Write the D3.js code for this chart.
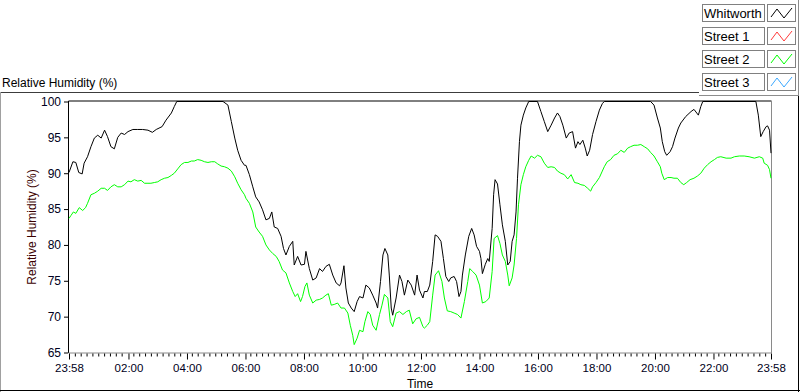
<!DOCTYPE html>
<html lang="en">
<head>
<meta charset="utf-8">
<title>Relative Humidity</title>
<script src="https://d3js.org/d3.v7.min.js"></script>
<style>
  body { margin: 0; background: #fff; }
  svg text { font-family: "Liberation Sans", Arial, sans-serif; }
</style>
</head>
<body>
<script>
// minutes after the 23:58 start, relative humidity (%)
var whitworth = [
  [0,90.1],[8,91.6],[14,91.5],[20,90.1],[27,89.9],[31,91.4],[38,92.3],[45,93.7],[52,94.9],[59,95.3],
  [66,94.9],[73,96.0],[79,95.1],[86,93.7],[93,93.4],[100,95.0],[107,95.6],[114,95.4],[121,95.8],[131,96.1],
  [141,96.1],[151,96.1],[162,96.0],[171,95.7],[179,96.1],[191,96.5],[199,97.4],[210,98.4],[216,99.3],[221,100],
  [316,100],[326,99.5],[333,97.2],[340,94.9],[346,93.2],[353,91.8],[360,91.1],
  [363,91.1],[370,89.8],[377,88.1],[383,86.7],[390,86.0],[397,84.9],[404,83.5],[411,83.7],[416,84.6],[421,82.5],
  [428,82.3],[435,81.2],[440,79.5],[445,78.6],[452,79.8],[459,80.5],[462,77.2],[469,78.4],[476,77.2],[483,77.3],
  [486,79.1],[493,76.7],[500,75.1],[507,75.4],[514,76.7],[520,76.3],[527,77.0],[534,77.3],[541,75.8],[548,74.7],
  [555,74.3],[558,74.7],[564,77.1],[568,74.0],[573,71.9],[579,71.2],[585,70.7],[591,72.1],[596,72.8],[603,72.6],
  [609,74.4],[616,74.0],[623,73.0],[630,71.9],[633,71.2],[639,74.9],[644,78.6],[648,79.5],[654,78.6],[657,75.8],
  [661,71.2],[664,70.2],[671,72.6],[678,75.8],[683,74.9],[688,73.0],[695,75.1],[702,74.4],[709,73.0],[714,75.8],
  [719,73.7],[726,72.6],
  [729,73.5],[735,73.5],[740,74.4],[746,77.7],[751,81.4],[756,81.2],[763,80.5],[768,78.1],[773,75.6],[779,74.9],
  [783,75.4],[790,75.6],[795,74.9],[800,72.8],[804,73.5],[807,75.8],[813,78.6],[820,81.2],[826,82.3],[831,81.4],
  [836,79.8],[842,79.1],[845,78.1],[848,76.0],[854,77.3],[859,78.1],[862,77.7],[868,82.3],[871,87.0],[874,89.1],
  [879,88.5],[884,85.6],[889,82.8],[895,80.5],[900,77.2],[905,77.7],[909,80.5],[913,81.4],[917,84.6],[920,89.3],
  [924,94.4],[927,96.7],[932,98.1],[937,99.1],[943,100],[961,100],[968,98.6],[975,97.2],[982,95.8],[989,96.7],
  [996,97.7],[1002,98.4],[1007,97.9],[1013,96.7],[1020,94.9],[1026,95.6],[1033,95.8],[1039,93.5],[1044,94.4],[1048,94.0],
  [1054,94.6],[1059,93.5],[1063,92.4],[1068,93.2],[1074,95.4],[1081,97.2],[1088,98.8],[1094,99.7],
  [1098,100],[1193,100],[1200,99.5],[1207,97.7],[1213,96.3],[1217,94.4],[1222,93.0],[1226,92.5],[1233,93.0],[1238,93.7],
  [1243,94.9],[1250,96.3],[1255,97.0],[1265,97.9],[1276,98.6],[1282,98.9],[1291,98.1],[1296,99.3],[1300,100],[1409,100],
  [1414,98.1],[1419,95.1],[1424,95.8],[1430,96.5],[1433,96.6],[1437,96.0],[1440,92.8]
];

var street2 = [
  [0,83.7],[4,84.1],[9,84.6],[14,84.4],[21,85.2],[28,84.8],[34,85.2],[38,85.8],[45,87.0],[52,87.2],
  [59,87.5],[66,87.9],[73,87.9],[79,87.6],[86,88.1],[93,88.4],[100,88.1],[107,88.1],[114,88.4],[121,88.9],
  [127,88.8],[134,89.1],[141,88.9],[148,89.0],[155,88.6],[162,88.6],[168,88.6],[175,88.7],[182,88.8],[189,89.1],
  [196,89.3],[203,89.4],[210,89.7],[216,90.0],[223,90.6],[230,91.2],[237,91.5],[244,91.5],[251,91.7],[257,91.7],
  [264,91.9],[271,91.8],[278,91.6],[285,91.5],[292,91.6],[299,91.6],[305,91.3],[312,91.0],[319,90.9],[326,90.7],
  [333,90.3],[340,89.5],[346,88.6],[353,87.7],[360,87.0],
  [363,86.5],[370,85.8],[377,84.6],[383,82.5],[390,81.8],[397,81.2],[404,80.0],[411,79.3],[418,78.8],[425,78.4],
  [431,77.7],[438,76.5],[445,76.1],[452,74.7],[459,73.5],[464,72.8],[469,73.2],[475,72.1],[479,72.8],[484,74.2],
  [488,74.7],[493,73.0],[500,71.9],[507,72.3],[514,72.4],[520,72.6],[527,73.0],[532,73.2],[538,71.6],[544,71.7],
  [551,71.9],[558,71.2],[565,71.2],[572,70.5],[577,68.8],[582,67.4],[585,66.1],[591,67.0],[596,68.1],[603,67.9],
  [607,69.3],[613,70.7],[618,70.3],[623,68.8],[630,68.1],[637,70.3],[642,71.6],[647,73.1],[654,72.6],[659,69.3],
  [664,68.6],[671,70.5],[678,70.7],[685,70.3],[692,70.7],[698,70.9],[705,69.0],[712,69.7],[719,69.9],[726,68.6],
  [729,68.4],[735,68.8],[740,69.3],[746,73.0],[751,75.8],[758,76.4],[765,74.9],[770,72.6],[776,70.8],[783,70.7],
  [790,70.5],[797,70.3],[804,69.8],[811,72.1],[818,74.9],[822,76.7],[828,76.3],[835,75.8],[842,74.4],[848,71.9],
  [855,72.1],[862,72.6],[868,76.3],[872,80.9],[879,81.3],[884,80.2],[889,78.6],[895,77.7],[900,75.8],[903,74.3],
  [909,75.4],[913,77.2],[918,80.9],[922,85.6],[927,88.4],[932,89.8],[937,90.9],[943,91.8],[948,92.4],[955,92.1],
  [961,92.5],[968,92.3],[975,91.4],[982,90.8],[989,90.9],[996,90.8],[1002,90.3],[1009,90.0],[1016,89.8],[1023,89.2],
  [1030,89.8],[1037,88.7],[1044,88.6],[1050,88.4],[1057,88.3],[1064,87.9],[1070,87.5],[1074,88.1],[1081,88.7],[1088,89.4],
  [1094,90.3],
  [1098,90.9],[1104,91.6],[1111,91.9],[1118,92.5],[1125,92.7],[1132,93.2],[1139,92.9],[1146,93.5],[1152,93.7],[1159,93.9],
  [1166,93.9],[1173,94.0],[1180,93.7],[1187,93.4],[1193,92.9],[1200,92.4],[1207,91.6],[1213,90.9],[1216,90.0],[1221,89.1],
  [1228,89.4],[1235,89.4],[1241,89.3],[1248,89.3],[1255,88.7],[1261,88.4],[1267,88.7],[1274,89.1],[1282,89.3],[1289,89.6],
  [1296,90.0],[1303,90.7],[1310,91.2],[1317,91.6],[1324,91.9],[1330,92.2],[1337,92.3],[1348,92.1],[1358,92.1],[1365,92.3],
  [1375,92.4],[1385,92.4],[1395,92.3],[1406,92.1],[1416,92.3],[1423,92.1],[1426,91.4],[1433,91.1],[1437,90.5],[1440,89.3]
];

var legendNames = ["Whitworth", "Street 1", "Street 2", "Street 3"];
var legendColors = ["#000000", "#ff3a3a", "#00ff00", "#3aa8ff"];

var yTicks = [65, 70, 75, 80, 85, 90, 95, 100];
var xTickMinutes = [0, 122, 242, 362, 482, 602, 722, 842, 962, 1082, 1202, 1322, 1440];
var xTickLabels = ["23:58", "02:00", "04:00", "06:00", "08:00", "10:00", "12:00",
                   "14:00", "16:00", "18:00", "20:00", "22:00", "23:58"];

var w = 800, h = 392;
var plotL = 69, plotR = 771, plotT = 101.5, plotB = 352.5;

var svg = d3.select("body").append("svg")
  .attr("width", w)
  .attr("height", h);

var x = d3.scaleLinear().domain([0, 1440]).range([plotL, plotR]);
var y = d3.scaleLinear().domain([65, 100]).range([plotB, plotT]);

// outer frame
svg.append("line").attr("x1", 0).attr("x2", 699).attr("y1", 92.5).attr("y2", 92.5)
  .attr("stroke", "#3c3c3c");
svg.append("line").attr("x1", 699).attr("x2", 799).attr("y1", 95.5).attr("y2", 95.5)
  .attr("stroke", "#8c8c8c");
svg.append("line").attr("x1", 798.5).attr("x2", 798.5).attr("y1", 0).attr("y2", 96)
  .attr("stroke", "#8c8c8c");
svg.append("line").attr("x1", 0.5).attr("x2", 0.5).attr("y1", 92).attr("y2", 392)
  .attr("stroke", "#a0a0a0");
svg.append("line").attr("x1", 798.5).attr("x2", 798.5).attr("y1", 96).attr("y2", 392)
  .attr("stroke", "#000");
svg.append("line").attr("x1", 0).attr("x2", 800).attr("y1", 390.5).attr("y2", 390.5)
  .attr("stroke", "#000");

// title
svg.append("text")
  .attr("x", 2).attr("y", 87)
  .attr("font-size", "12px")
  .attr("fill", "#000")
  .text("Relative Humidity (%)");

// plot area border: dark top/left, grey bottom/right
svg.append("path")
  .attr("d", "M" + (plotL - 0.5) + "," + (plotB + 0.5) + "V" + (plotT - 0.5) + "H" + (plotR + 0.5))
  .attr("fill", "none").attr("stroke", "#000");
svg.append("path")
  .attr("d", "M" + (plotR + 0.5) + "," + (plotT - 0.5) + "V" + (plotB + 0.5) + "H" + (plotL - 0.5))
  .attr("fill", "none").attr("stroke", "#8a8a8a");

svg.append("clipPath").attr("id", "clip")
  .append("rect").attr("x", plotL - 1).attr("y", plotT - 1)
  .attr("width", plotR - plotL + 2).attr("height", plotB - plotT + 2);

// y axis
var yAxis = d3.axisLeft(y).tickValues(yTicks).tickSize(4).tickPadding(3);
var gy = svg.append("g").attr("transform", "translate(" + (plotL - 1) + ",0)").call(yAxis);
gy.select(".domain").remove();
gy.selectAll("text").attr("font-size", "12px").attr("font-family", "Liberation Sans, Arial, sans-serif")
  .attr("fill", "#000020");

// x axis, minor ticks every 12 min
var minor = d3.range(12, 1440, 12).filter(function(m) { return m % 120 != 0; });
var gxm = svg.append("g").attr("transform", "translate(0," + (plotB + 1) + ")")
  .call(d3.axisBottom(x).tickValues(minor).tickSize(3).tickFormat(""));
gxm.select(".domain").remove();
var xAxis = d3.axisBottom(x).tickValues(xTickMinutes).tickSize(6).tickPadding(4)
  .tickFormat(function(d, i) { return xTickLabels[i]; });
var gx = svg.append("g").attr("transform", "translate(0," + (plotB + 1) + ")").call(xAxis);
gx.select(".domain").remove();
gx.selectAll("text").attr("font-size", "11.5px").attr("font-family", "Liberation Sans, Arial, sans-serif")
  .attr("fill", "#000020");

// axis titles
svg.append("text")
  .attr("transform", "translate(36," + ((plotT + plotB) / 2) + ") rotate(-90)")
  .attr("text-anchor", "middle")
  .attr("font-size", "12px")
  .attr("fill", "#3a0000")
  .text("Relative Humidity (%)");
svg.append("text")
  .attr("x", (plotL + plotR) / 2).attr("y", 388)
  .attr("text-anchor", "middle")
  .attr("font-size", "12px")
  .attr("fill", "#000")
  .text("Time");

// series
var line = d3.line()
  .x(function(d) { return x(d[0]); })
  .y(function(d) { return y(d[1]); });

var plot = svg.append("g").attr("clip-path", "url(#clip)");
plot.append("path").datum(street2)
  .attr("d", line).attr("fill", "none").attr("stroke", legendColors[2]).attr("stroke-width", 1);
plot.append("path").datum(whitworth)
  .attr("d", line).attr("fill", "none").attr("stroke", legendColors[0]).attr("stroke-width", 1);

// legend
var lg = svg.selectAll(".lg").data(legendNames).enter().append("g")
  .attr("class", "lg")
  .attr("transform", function(d, i) { return "translate(702," + (4 + i * 23) + ")"; });
lg.append("rect").attr("x", 0.5).attr("y", 0.5).attr("width", 62).attr("height", 17)
  .attr("fill", "#fff").attr("stroke", "#808080");
lg.append("text").attr("x", 2).attr("y", 13.5).attr("font-size", "13px").attr("fill", "#000")
  .text(function(d) { return d; });
lg.append("rect").attr("x", 65.5).attr("y", 0.5).attr("width", 28).attr("height", 17)
  .attr("fill", "#fff").attr("stroke", "#808080");
lg.append("polyline")
  .attr("points", "69,13 75,5 82,14 90,4")
  .attr("fill", "none")
  .attr("stroke", function(d, i) { return legendColors[i]; });
</script>
</body>
</html>
